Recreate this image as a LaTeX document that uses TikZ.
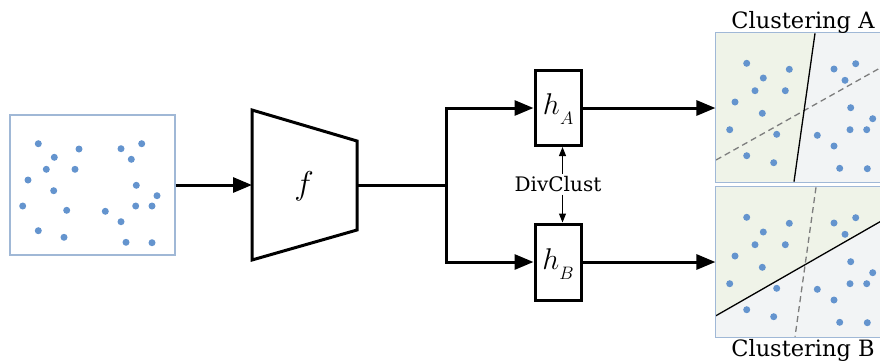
\RequirePackage{fix-cm}
\documentclass[tikz,border=0pt]{standalone}
\usepackage{fontspec}
\setmainfont{DejaVu Serif}
\usetikzlibrary{arrows.meta}
\definecolor{dotblue}{RGB}{100,148,206}
\definecolor{frameblue}{RGB}{160,184,214}
\definecolor{regiongreen}{RGB}{239,243,232}
\definecolor{regiongrey}{RGB}{242,244,245}
\definecolor{dashgrey}{RGB}{125,125,125}
\newcommand{\headlabel}[1]{$h$\kern0.3pt\raisebox{-10pt}{\fontsize{18}{20}\selectfont$#1$}}
\tikzset{
  mainline/.style={line width=3pt},
  bigarrow/.style={mainline,-{Triangle[length=19pt,width=15pt]}},
  thinarrow/.style={line width=1pt,-{Triangle[length=9pt,width=7pt]}},
  headbox/.style={draw,line width=3pt,minimum width=46pt,inner sep=0pt},
  framebox/.style={draw=frameblue,line width=1.2pt,inner sep=0pt},
  scatterdot/.style={fill=dotblue},
  cutline/.style={line width=1.3pt,black},
  altline/.style={line width=1.3pt,dashgrey,dash pattern=on 6pt off 4pt},
  titletext/.style={font=\fontsize{22.5}{26}\selectfont,anchor=base},
  headtext/.style={font=\fontsize{30}{34}\selectfont,anchor=base,inner sep=0pt},
}
\begin{document}
\begin{tikzpicture}[x=1pt,y=-1pt]
\useasboundingbox (0,0) rectangle (880,360);

% input scatter
\node[framebox,minimum width=165pt,minimum height=140pt] (input) at (92.5,185) {};
\foreach \px/\py in {38.3/143.7,79/149,54.3/157.3,46.3/169.3,75/169.3,28/180,53.7/190.7,22.7/206,66.7/210.3,38.3/230.7,64/237.3,121/148.7,141.7/143.7,131.3/159.3,136.3/185.3,157/195.7,135.7/206,152/206,105.3/211.3,121/221.7,126/242.3,152/242.7}
  \fill[scatterdot] (\px,\py) circle (3.5pt);

% encoder f
\draw[mainline,line join=miter] (252,110) -- (357,141) -- (357,230) -- (252,260) -- cycle;
\node[font=\fontsize{33}{38}\selectfont] (f) at (304,186) {$f$};
\coordinate (fin) at (252,185);
\coordinate (fout) at (357,185);
\coordinate (junction) at (446,185);

% heads
\node[headbox,minimum height=75pt] (hA) at (558,108) {};
\node[headbox,minimum height=76pt] (hB) at (558,262) {};
\node[headtext] (lA) at (558,114.3) {\headlabel{A}};
\node[headtext] (lB) at (558,269) {\headlabel{B}};
\node[font=\fontsize{20}{24}\selectfont,anchor=base,inner sep=2.5pt] (div) at (558,191.7) {DivClust};

% clustering boxes
\node[framebox,minimum width=166pt,minimum height=148.4pt] (clA) at (799,107.5) {};
\node[framebox,minimum width=166pt,minimum height=149.4pt] (clB) at (799,262) {};

\fill[regiongrey] (clA.north west) rectangle (clA.south east);
\fill[regiongreen] (716,33.3) -- (815,33.3) -- (794,181.7) -- (716,181.7) -- cycle;
\fill[regiongrey] (clB.north west) rectangle (clB.south east);
\fill[regiongreen] (716,187.3) -- (882,187.3) -- (882,220.6) -- (716,315.7) -- cycle;

\foreach \px/\py in {746.7/63.3,789.3/69.3,763.3/78,755/90.7,785.3/90.7,735/102,762.3/113.3,729.7/129.7,776.7/134.3,746.7/155.7,773.7/162.7,834/69,855.7/63.7,845/80.3,850.7/107.7,872.7/118.7,850/129.7,866.7/129.7,817.3/135.3,834/146,839.7/168.3,867.3/168.7}
{
  \fill[scatterdot] (\px,\py) circle (3.5pt);
  \fill[scatterdot] (\px,\py+154) circle (3.5pt);
}

\draw[altline] (716,160) -- (882,66.9);
\draw[cutline] (815,33.3) -- (794,181.7);
\draw[altline] (816,187.3) -- (795,336.7);
\draw[cutline] (716,315.7) -- (882,220.6);

\draw[framebox] (clA.north west) rectangle (clA.south east);
\draw[framebox] (clB.north west) rectangle (clB.south east);

\node[titletext] (tA) at (803,28.3) {Clustering A};
\node[titletext] (tB) at (803,356) {Clustering B};

% connectors
\draw[bigarrow] (input.east) -- (fin);
\draw[mainline] (fout) -- (junction);
\draw[bigarrow] (junction) |- (hA.west);
\draw[bigarrow] (junction) |- (hB.west);
\draw[thinarrow] ([xshift=4.5pt]div.north) -- ([xshift=4.5pt]hA.south);
\draw[thinarrow] ([xshift=4.5pt]div.south) -- ([xshift=4.5pt]hB.north);
\draw[bigarrow] (hA.east) -- (clA.west |- hA.east);
\draw[bigarrow] (hB.east) -- (clB.west |- hB.east);
\end{tikzpicture}
\end{document}
